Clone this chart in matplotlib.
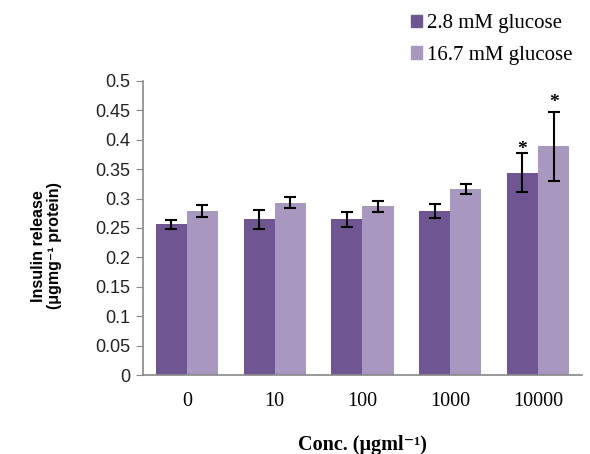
import matplotlib
matplotlib.use("Agg")
import matplotlib.pyplot as plt
import numpy as np
from matplotlib.patches import Patch

# insulin release per concentration, two glucose levels
conc = ["0", "10", "100", "1000", "10000"]
low_glc = [0.256, 0.265, 0.265, 0.279, 0.344]
low_err = [0.007, 0.016, 0.013, 0.012, 0.033]
high_glc = [0.279, 0.293, 0.287, 0.316, 0.389]
high_err = [0.010, 0.009, 0.009, 0.008, 0.059]
signif = [False, False, False, False, True]

dark = "#6f5692"
light = "#a898c0"
serif = ["Liberation Serif", "DejaVu Serif"]
sans = ["Liberation Sans", "DejaVu Sans"]

fig = plt.figure(figsize=(5.9, 4.54), dpi=100)
ax = fig.add_axes([0.2424, 0.174, 0.744, 0.6476])

x = np.arange(len(conc))
w = 0.355
ax.bar(x - w/2, low_glc, w, color=dark, zorder=2)
ax.bar(x + w/2, high_glc, w, color=light, zorder=2)
ekw = dict(fmt="none", ecolor="black", elinewidth=1.5, capsize=4, capthick=1.5, zorder=3)
ax.errorbar(x - w/2, low_glc, yerr=low_err, **ekw)
ax.errorbar(x + w/2, high_glc, yerr=high_err, **ekw)

# significance stars above the error bars
for i, s in enumerate(signif):
    if s:
        ax.text(x[i] - w/2, low_glc[i] + low_err[i] + 0.007, "*", ha="center", va="center",
                fontsize=14, fontweight="bold", family=serif)
        ax.text(x[i] + w/2, high_glc[i] + high_err[i] + 0.016, "*", ha="center", va="center",
                fontsize=14, fontweight="bold", family=serif)

ax.set_xlim(-0.5, len(conc) - 0.5)
ax.set_ylim(0, 0.5)
ax.set_yticks(np.arange(0, 0.501, 0.05))
ax.set_yticklabels(["0", "0.05", "0.1", "0.15", "0.2", "0.25", "0.3", "0.35", "0.4", "0.45", "0.5"],
                   family=sans, fontsize=13, color="#222222")
ax.set_xticks(x)
ax.set_xticklabels(conc, family=serif, fontsize=14.5)
ax.tick_params(axis="x", length=0, pad=12)
ax.tick_params(axis="y", length=5, color="#888888", pad=4)

for sp in ["top", "right"]:
    ax.spines[sp].set_visible(False)
for sp in ["left", "bottom"]:
    ax.spines[sp].set_color("#888888")
    ax.spines[sp].set_linewidth(1.2)

ax.set_xlabel("Conc. (μgml⁻¹)", family=serif, fontsize=14.5, fontweight="bold")
ax.xaxis.set_label_coords(0.5, -0.205)
ax.set_ylabel("Insulin release\n(μgmg⁻¹ protein)", family=sans, fontsize=11.5,
              fontweight="bold", linespacing=1.1)
ax.yaxis.set_label_coords(-0.185, 0.44)

handles = [Patch(color=dark, label="2.8 mM glucose"), Patch(color=light, label="16.7 mM glucose")]
fig.legend(handles=handles, loc="upper left", bbox_to_anchor=(0.664, 1.01), frameon=False,
           prop={"family": serif, "size": 15}, handlelength=0.55, handleheight=0.55,
           handletextpad=0.25, labelspacing=0.6)

fig.savefig("out.png", dpi=100)
